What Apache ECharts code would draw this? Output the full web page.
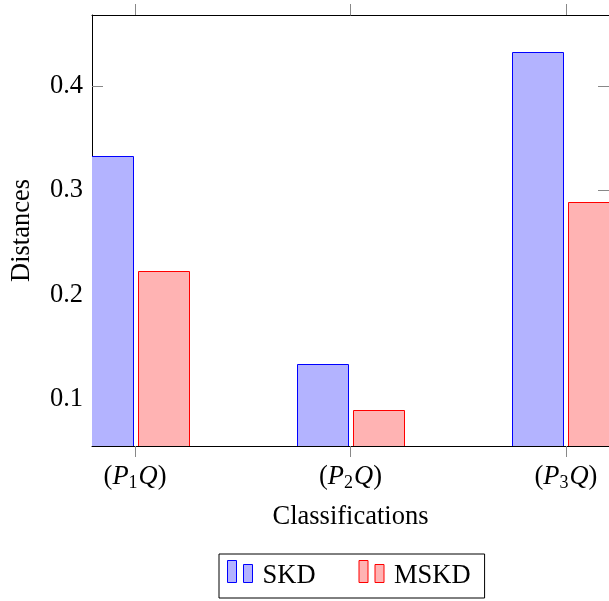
<!DOCTYPE html>
<html>
<head>
<meta charset="utf-8">
<script src="https://cdn.jsdelivr.net/npm/echarts@6/dist/echarts.min.js"></script>
<style>
html,body{margin:0;padding:0;background:#fff;}
#chart{width:609px;height:601px;}
</style>
</head>
<body>
<div id="chart"></div>
<script>
const categories = ['(P1Q)', '(P2Q)', '(P3Q)'];
const catSubscripts = ['1', '2', '3'];
const catPositions = [1, 2, 3];
const skdValues = [0.333, 0.134, 0.433];
const mskdValues = [0.223, 0.09, 0.289];
const yTicks = [0.1, 0.2, 0.3, 0.4];
const seriesNames = ['SKD', 'MSKD'];

const Y_MIN = 0.0555, Y_MAX = 0.468;
const X_MIN = 0.8, X_MAX = 3.2;
const FONT = "'Liberation Serif','Times New Roman',serif";
const FS = 26.5;
const BAR_W = 51;
const SKD_FILL = 'rgb(179,179,255)', SKD_STROKE = '#0000ff';
const MSKD_FILL = 'rgb(255,179,179)', MSKD_STROKE = '#ff0000';

const chart = echarts.init(document.getElementById('chart'), null, {renderer: 'canvas'});

function catLabel(v) {
  const i = catPositions.indexOf(Math.round(v));
  if (i < 0) return '';
  return '{r|(}{i|P}{s|' + catSubscripts[i] + '}{i|Q}{r|)}';
}

function makeRender(offsetPx, fill, stroke) {
  return function (params, api) {
    const x = api.value(0), v = api.value(1);
    const top = api.coord([x, v]);
    const base = api.coord([x, Y_MIN]);
    const left = Math.round(top[0] + offsetPx) + 0.5;
    const t = Math.round(top[1]) + 0.5;
    const b = Math.round(base[1]) + 0.5;
    return {
      type: 'rect',
      shape: {x: left, y: t, width: BAR_W, height: b - t},
      style: {fill: fill, stroke: stroke, lineWidth: 1}
    };
  };
}

const tickStyle = {color: '#888', width: 1};
const lineStyle = {color: '#000', width: 1};

const option = {
  animation: false,
  backgroundColor: '#fff',
  textStyle: {fontFamily: FONT},
  grid: {left: 92, top: 15, width: 519, height: 431, containLabel: false},
  xAxis: [
    {
      type: 'value', min: X_MIN, max: X_MAX, position: 'bottom',
      axisLine: {show: true, onZero: false, lineStyle: lineStyle},
      axisTick: {show: true, inside: false, length: 11, customValues: catPositions, lineStyle: tickStyle},
      axisLabel: {
        show: true, customValues: catPositions, margin: 16,
        formatter: catLabel,
        rich: {
          r: {fontFamily: FONT, fontSize: FS, color: '#000'},
          i: {fontFamily: FONT, fontSize: FS, fontStyle: 'italic', color: '#000'},
          s: {fontFamily: FONT, fontSize: 18, color: '#000', padding: [12, 1, 0, 0]}
        }
      },
      splitLine: {show: false},
      name: 'Classifications', nameLocation: 'middle', nameGap: 58,
      nameTextStyle: {fontFamily: FONT, fontSize: FS, color: '#000'}
    },
    {
      type: 'value', min: X_MIN, max: X_MAX, position: 'top',
      axisLine: {show: true, onZero: false, lineStyle: lineStyle},
      axisTick: {show: true, inside: false, length: 11, customValues: catPositions, lineStyle: tickStyle},
      axisLabel: {show: false},
      splitLine: {show: false}
    }
  ],
  yAxis: [
    {
      type: 'value', min: Y_MIN, max: Y_MAX, position: 'left',
      axisLine: {show: true, onZero: false, lineStyle: lineStyle},
      axisTick: {show: true, inside: true, length: 11, customValues: yTicks, lineStyle: tickStyle},
      axisLabel: {
        show: true, customValues: yTicks, margin: 9,
        formatter: v => v.toFixed(1),
        fontFamily: FONT, fontSize: FS, color: '#000'
      },
      splitLine: {show: false},
      name: 'Distances', nameLocation: 'middle', nameGap: 56, nameRotate: 90,
      nameTextStyle: {fontFamily: FONT, fontSize: FS, color: '#000'}
    },
    {
      type: 'value', min: Y_MIN, max: Y_MAX, position: 'right',
      axisLine: {show: true, onZero: false, lineStyle: lineStyle},
      axisTick: {show: true, inside: true, length: 11, customValues: yTicks, lineStyle: tickStyle},
      axisLabel: {show: false},
      splitLine: {show: false}
    }
  ],
  legend: {
    left: 219, top: 554,
    orient: 'horizontal',
    padding: [6, 14, 6, 8],
    itemGap: 43,
    itemWidth: 25, itemHeight: 31,
    borderColor: '#000', borderWidth: 1,
    textStyle: {fontFamily: FONT, fontSize: FS, color: '#000', padding: [0, 0, 0, 5]},
    icon: 'path://M0,0H9V22H0Z M16,4H25V22H16Z M0,31',
    data: [
      {name: seriesNames[0], itemStyle: {color: SKD_FILL, borderColor: SKD_STROKE, borderWidth: 1}},
      {name: seriesNames[1], itemStyle: {color: MSKD_FILL, borderColor: MSKD_STROKE, borderWidth: 1}}
    ]
  },
  series: [
    {
      name: seriesNames[0], type: 'custom', xAxisIndex: 0, yAxisIndex: 0,
      clip: true, z: 2,
      itemStyle: {color: SKD_FILL, borderColor: SKD_STROKE, borderWidth: 1},
      encode: {x: 0, y: 1},
      renderItem: makeRender(-53.5, SKD_FILL, SKD_STROKE),
      data: catPositions.map((x, i) => [x, skdValues[i]])
    },
    {
      name: seriesNames[1], type: 'custom', xAxisIndex: 0, yAxisIndex: 0,
      clip: true, z: 2,
      itemStyle: {color: MSKD_FILL, borderColor: MSKD_STROKE, borderWidth: 1},
      encode: {x: 0, y: 1},
      renderItem: makeRender(2.5, MSKD_FILL, MSKD_STROKE),
      data: catPositions.map((x, i) => [x, mskdValues[i]])
    }
  ]
};
chart.setOption(option);
</script>
</body>
</html>
